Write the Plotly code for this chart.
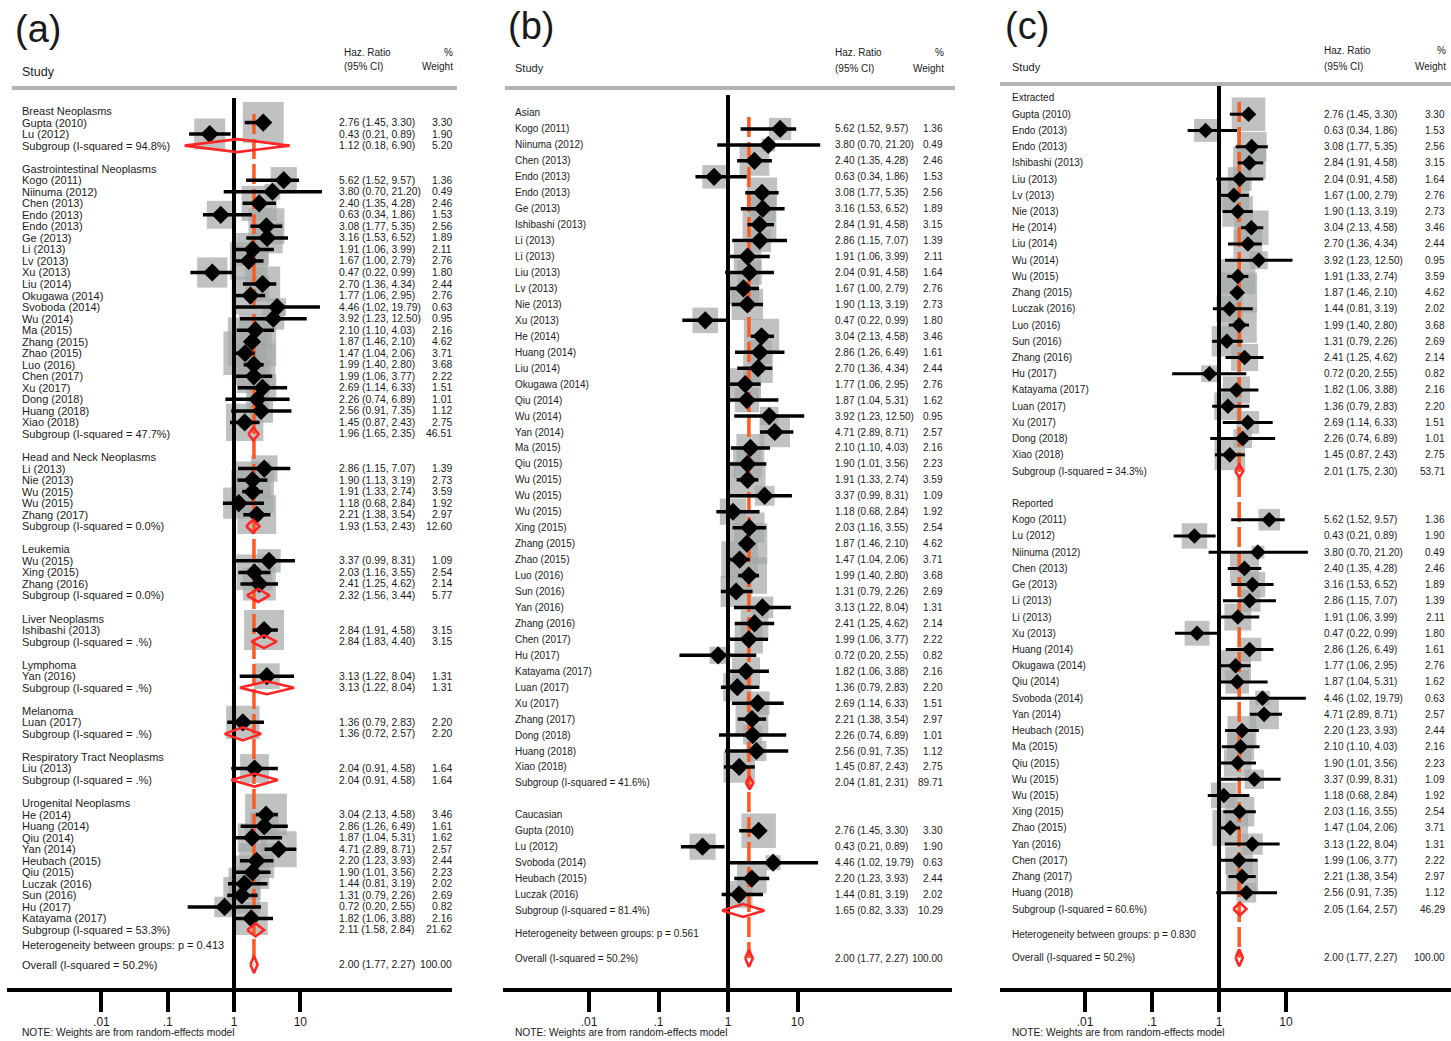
import math
import plotly.graph_objects as go

W_PX, H_PX = 1451, 1041

# ---------------- data ----------------
STUDY = ["Gupta (2010)", "Kogo (2011)", "Lu (2012)", "Niinuma (2012)", "Chen (2013)",
         "Endo (2013)", "Endo (2013)", "Ge (2013)", "Ishibashi (2013)", "Li (2013)",
         "Li (2013)", "Liu (2013)", "Lv (2013)", "Nie (2013)", "Xu (2013)",
         "He (2014)", "Huang (2014)", "Liu (2014)", "Okugawa (2014)", "Qiu (2014)",
         "Svoboda (2014)", "Wu (2014)", "Yan (2014)", "Heubach (2015)", "Ma (2015)",
         "Qiu (2015)", "Wu (2015)", "Wu (2015)", "Wu (2015)", "Xing (2015)",
         "Zhang (2015)", "Zhao (2015)", "Luczak (2016)", "Luo (2016)", "Sun (2016)",
         "Yan (2016)", "Zhang (2016)", "Chen (2017)", "Hu (2017)", "Katayama (2017)",
         "Luan (2017)", "Xu (2017)", "Zhang (2017)", "Dong (2018)", "Huang (2018)",
         "Xiao (2018)"]
HR = [2.76, 5.62, 0.43, 3.80, 2.40, 0.63, 3.08, 3.16, 2.84, 2.86,
      1.91, 2.04, 1.67, 1.90, 0.47, 3.04, 2.86, 2.70, 1.77, 1.87,
      4.46, 3.92, 4.71, 2.20, 2.10, 1.90, 1.91, 3.37, 1.18, 2.03,
      1.87, 1.47, 1.44, 1.99, 1.31, 3.13, 2.41, 1.99, 0.72, 1.82,
      1.36, 2.69, 2.21, 2.26, 2.56, 1.45]
LO = [1.45, 1.52, 0.21, 0.70, 1.35, 0.34, 1.77, 1.53, 1.91, 1.15,
      1.06, 0.91, 1.00, 1.13, 0.22, 2.13, 1.26, 1.36, 1.06, 1.04,
      1.02, 1.23, 2.89, 1.23, 1.10, 1.01, 1.33, 0.99, 0.68, 1.16,
      1.46, 1.04, 0.81, 1.40, 0.79, 1.22, 1.25, 1.06, 0.20, 1.06,
      0.79, 1.14, 1.38, 0.74, 0.91, 0.87]
HI = [3.30, 9.57, 0.89, 21.20, 4.28, 1.86, 5.35, 6.52, 4.58, 7.07,
      3.99, 4.58, 2.79, 3.19, 0.99, 4.58, 6.49, 4.34, 2.95, 5.31,
      19.79, 12.50, 8.71, 3.93, 4.03, 3.56, 2.74, 8.31, 2.84, 3.55,
      2.10, 2.06, 3.19, 2.80, 2.26, 8.04, 4.62, 3.77, 2.55, 3.88,
      2.83, 6.33, 3.54, 6.89, 7.35, 2.43]
WEIGHT = [3.30, 1.36, 1.90, 0.49, 2.46, 1.53, 2.56, 1.89, 3.15, 1.39,
          2.11, 1.64, 2.76, 2.73, 1.80, 3.46, 1.61, 2.44, 2.76, 1.62,
          0.63, 0.95, 2.57, 2.44, 2.16, 2.23, 3.59, 1.09, 1.92, 2.54,
          4.62, 3.71, 2.02, 3.68, 2.69, 1.31, 2.14, 2.22, 0.82, 2.16,
          2.20, 1.51, 2.97, 1.01, 1.12, 2.75]

# (a) by cancer type
A_GROUPS = ["Breast Neoplasms", "Gastrointestinal Neoplasms", "Head and Neck Neoplasms",
            "Leukemia", "Liver Neoplasms", "Lymphoma", "Melanoma",
            "Respiratory Tract Neoplasms", "Urogenital Neoplasms"]
A_MEMBERS = [[0, 2],
             [1, 3, 4, 5, 6, 7, 10, 12, 14, 17, 18, 20, 21, 24, 30, 31, 33, 37, 41, 43, 44, 45],
             [9, 13, 26, 28, 42],
             [27, 29, 36],
             [8],
             [35],
             [40],
             [11],
             [15, 16, 19, 22, 23, 25, 32, 34, 38, 39]]
A_SUB_I2 = ["94.8%", "47.7%", "0.0%", "0.0%", ".%", ".%", ".%", ".%", "53.3%"]
A_SUB_HR = [1.12, 1.96, 1.93, 2.32, 2.84, 3.13, 1.36, 2.04, 2.11]
A_SUB_LO = [0.18, 1.65, 1.53, 1.56, 1.83, 1.22, 0.72, 0.91, 1.58]
A_SUB_HI = [6.90, 2.35, 2.43, 3.44, 4.40, 8.04, 2.57, 4.58, 2.84]
A_SUB_W = [5.20, 46.51, 12.60, 5.77, 3.15, 1.31, 2.20, 1.64, 21.62]
A_HET_P = "0.413"

# (b) by ethnicity
B_GROUPS = ["Asian", "Caucasian"]
B_MEMBERS = [[1, 3, 4, 5, 6, 7, 8, 9, 10, 11, 12, 13, 14, 15, 16, 17, 18, 19, 21, 22,
              24, 25, 26, 27, 28, 29, 30, 31, 33, 34, 35, 36, 37, 38, 39, 40, 41, 42,
              43, 44, 45],
             [0, 2, 20, 23, 32]]
B_SUB_I2 = ["41.6%", "81.4%"]
B_SUB_HR = [2.04, 1.65]
B_SUB_LO = [1.81, 0.82]
B_SUB_HI = [2.31, 3.33]
B_SUB_W = [89.71, 10.29]
B_HET_P = "0.561"

# (c) by HR source
C_GROUPS = ["Extracted", "Reported"]
C_MEMBERS = [[0, 5, 6, 8, 11, 12, 13, 15, 17, 21, 26, 30, 32, 33, 34, 36, 38, 39, 40,
              41, 43, 45],
             [1, 2, 3, 4, 7, 9, 10, 14, 16, 18, 19, 20, 22, 23, 24, 25, 27, 28, 29,
              31, 35, 37, 42, 44]]
C_SUB_I2 = ["34.3%", "60.6%"]
C_SUB_HR = [2.01, 2.05]
C_SUB_LO = [1.75, 1.64]
C_SUB_HI = [2.30, 2.57]
C_SUB_W = [53.71, 46.29]
C_HET_P = "0.830"

OVERALL_I2 = "50.2%"
OVERALL_HR = 2.00
OVERALL_LO = 1.77
OVERALL_HI = 2.27
OVERALL_W = 100.00

TICK_VALS = [0.01, 0.1, 1, 10]
TICK_TEXT = [".01", ".1", "1", "10"]

# ---------------- styling / layout ----------------
FONT = "Liberation Sans, Arial, sans-serif"
GRAY = "#a4a8a6"
ORANGE = "#ff5a1e"
RED = "#ff2626"
TXT = "#1a1a1a"
AX_BOTTOM = 988
AX_TOP = 80

PANEL_DATA = [
    dict(groups=A_GROUPS, members=A_MEMBERS, i2=A_SUB_I2, hr=A_SUB_HR, lo=A_SUB_LO,
         hi=A_SUB_HI, w=A_SUB_W, p=A_HET_P),
    dict(groups=B_GROUPS, members=B_MEMBERS, i2=B_SUB_I2, hr=B_SUB_HR, lo=B_SUB_LO,
         hi=B_SUB_HI, w=B_SUB_W, p=B_HET_P),
    dict(groups=C_GROUPS, members=C_MEMBERS, i2=C_SUB_I2, hr=C_SUB_HR, lo=C_SUB_LO,
         hi=C_SUB_HI, w=C_SUB_W, p=C_HET_P),
]

PANEL_STYLE = [
    dict(tag="(a)", n="", x0=7, x1=452, one=234.0, dec=66.3, r0=111.0, step=11.535,
         lab=20, val=337, wgt=454, box=22.5, dia=14, err=3.5,
         fs_lab=11, fs_val=10.4, fs_study=12.5,
         het=1.3, tag_x=13, tag_y=29, study_x=20, study_y=72, hr_x=342, h1=52, h2=67,
         line_x0=12, line_x1=457, line_y=88, vtop=98),
    dict(tag="(b)", n="2", x0=503, x1=952, one=728.0, dec=69.5, r0=113.0, step=15.95,
         lab=513, val=833, wgt=945, box=19.0, dia=14, err=3.5,
         fs_lab=10, fs_val=10, fs_study=11,
         het=1.45, tag_x=506, tag_y=26, study_x=513, study_y=68, hr_x=833, h1=52, h2=68,
         line_x0=505, line_x1=955, line_y=88, vtop=95),
    dict(tag="(c)", n="3", x0=1000, x1=1451, one=1219.0, dec=67.0, r0=98.0, step=16.22,
         lab=1010, val=1322, wgt=1447, box=18.5, dia=12, err=3.0,
         fs_lab=10, fs_val=10, fs_study=11,
         het=1.6, tag_x=1003, tag_y=26, study_x=1010, study_y=67, hr_x=1322, h1=50, h2=66,
         line_x0=1000, line_x1=1451, line_y=84, vtop=84),
]


def ci_text(h, l, u):
    return f"{h:.2f} ({l:.2f}, {u:.2f})"


traces = []
annotations = []
shapes = []
layout_axes = {}

for D, S in zip(PANEL_DATA, PANEL_STYLE):
    xr, yr = "x" + S["n"], "y" + S["n"]
    step, r0 = S["step"], S["r0"]

    def px_to_row(p):
        return (p - r0) / step

    # build rows
    rows = []
    r = 0
    for gi, g in enumerate(D["groups"]):
        rows.append(("head", r, gi))
        r += 1
        for idx in D["members"][gi]:
            rows.append(("study", r, idx))
            r += 1
        rows.append(("sub", r, gi))
        r += 2
    last_sub = r - 2
    het_row = last_sub + S["het"]
    ov_row = last_sub + 3

    st = [(row, idx) for kind, row, idx in rows if kind == "study"]
    sy = [row for row, _ in st]
    sx = [HR[i] for _, i in st]

    # weight boxes
    traces.append(go.Scatter(
        x=sx, y=sy, mode="markers", xaxis=xr, yaxis=yr, hoverinfo="skip",
        marker=dict(symbol="square", size=[S["box"] * math.sqrt(WEIGHT[i]) for _, i in st],
                    color=GRAY, line=dict(width=0))))
    # null line at 1
    traces.append(go.Scatter(
        x=[1, 1], y=[px_to_row(S["vtop"]), px_to_row(AX_BOTTOM)], mode="lines",
        xaxis=xr, yaxis=yr, hoverinfo="skip", line=dict(color="black", width=4)))
    # overall effect dashed line
    traces.append(go.Scatter(
        x=[OVERALL_HR, OVERALL_HR], y=[0.25, ov_row], mode="lines",
        xaxis=xr, yaxis=yr, hoverinfo="skip",
        line=dict(color=ORANGE, width=3.5, dash="20px,5px")))
    # study estimates with CIs
    traces.append(go.Scatter(
        x=sx, y=sy, mode="markers", xaxis=xr, yaxis=yr, hoverinfo="skip",
        marker=dict(symbol="diamond", size=S["dia"], color="black", line=dict(width=0)),
        error_x=dict(type="data", symmetric=False,
                     array=[HI[i] - HR[i] for _, i in st],
                     arrayminus=[HR[i] - LO[i] for _, i in st],
                     color="black", thickness=S["err"], width=0)))
    # pooled diamonds
    dx, dy = [], []
    hs = 6.5 / step
    for kind, row, gi in rows:
        if kind == "sub":
            h, l, u = D["hr"][gi], D["lo"][gi], D["hi"][gi]
            dx += [l, h, u, h, l, None]
            dy += [row, row - hs, row, row + hs, row, None]
    ho = 8.5 / step
    dx += [OVERALL_LO, OVERALL_HR, OVERALL_HI, OVERALL_HR, OVERALL_LO]
    dy += [ov_row, ov_row - ho, ov_row, ov_row + ho, ov_row]
    traces.append(go.Scatter(
        x=dx, y=dy, mode="lines", xaxis=xr, yaxis=yr, hoverinfo="skip",
        line=dict(color=RED, width=2.6)))

    # text columns
    def add_text(txt, px, row, size, anchor="left"):
        annotations.append(dict(text=txt, x=px / W_PX, xref="paper", y=row, yref=yr,
                                xanchor=anchor, yanchor="middle", showarrow=False,
                                font=dict(family=FONT, size=size, color=TXT)))

    fl, fv = S["fs_lab"], S["fs_val"]
    for kind, row, idx in rows:
        if kind == "head":
            add_text(D["groups"][idx], S["lab"], row, fl)
        elif kind == "study":
            add_text(STUDY[idx], S["lab"], row, fl)
            add_text(ci_text(HR[idx], LO[idx], HI[idx]), S["val"], row, fv)
            add_text(f"{WEIGHT[idx]:.2f}", S["wgt"], row, fv, "right")
        else:
            add_text(f"Subgroup (I-squared = {D['i2'][idx]})", S["lab"], row, fl)
            add_text(ci_text(D["hr"][idx], D["lo"][idx], D["hi"][idx]), S["val"], row, fv)
            add_text(f"{D['w'][idx]:.2f}", S["wgt"], row, fv, "right")
    add_text(f"Heterogeneity between groups: p = {D['p']}", S["lab"], het_row, fl)
    add_text(f"Overall (I-squared = {OVERALL_I2})", S["lab"], ov_row, fl)
    add_text(ci_text(OVERALL_HR, OVERALL_LO, OVERALL_HI), S["val"], ov_row, fv)
    add_text(f"{OVERALL_W:.2f}", S["wgt"], ov_row, fv, "right")

    # headers
    def add_hdr(txt, px, py, size, anchor="left"):
        annotations.append(dict(text=txt, x=px / W_PX, y=1 - py / H_PX, xref="paper",
                                yref="paper", xanchor=anchor, yanchor="middle",
                                showarrow=False,
                                font=dict(family=FONT, size=size, color=TXT)))

    add_hdr(S["tag"], S["tag_x"], S["tag_y"], 38)
    add_hdr("Study", S["study_x"], S["study_y"], S["fs_study"])
    add_hdr("Haz. Ratio", S["hr_x"], S["h1"], 10)
    add_hdr("(95% CI)", S["hr_x"], S["h2"], 10)
    add_hdr("%", S["wgt"] + 1, S["h1"], 10, "right")
    add_hdr("Weight", S["wgt"] + 1, S["h2"], 10, "right")
    add_hdr("NOTE: Weights are from random-effects model", S["lab"], 1032, 10.2)

    shapes.append(dict(type="line", xref="paper", yref="paper",
                       x0=S["line_x0"] / W_PX, x1=S["line_x1"] / W_PX,
                       y0=1 - S["line_y"] / H_PX, y1=1 - S["line_y"] / H_PX,
                       line=dict(color="#b4b4b4", width=4)))

    layout_axes["xaxis" + S["n"]] = dict(
        domain=[S["x0"] / W_PX, S["x1"] / W_PX], type="log",
        range=[(S["x0"] - S["one"]) / S["dec"], (S["x1"] - S["one"]) / S["dec"]],
        anchor=yr, showline=True, linewidth=4, linecolor="black",
        ticks="outside", ticklen=20, tickwidth=4, tickcolor="black",
        tickvals=TICK_VALS, ticktext=TICK_TEXT,
        tickfont=dict(family=FONT, size=12, color=TXT),
        showgrid=False, zeroline=False, fixedrange=True)
    layout_axes["yaxis" + S["n"]] = dict(
        domain=[1 - AX_BOTTOM / H_PX, 1 - AX_TOP / H_PX],
        range=[px_to_row(AX_BOTTOM), px_to_row(AX_TOP)],
        anchor=xr, visible=False, showgrid=False, zeroline=False, fixedrange=True)

fig = go.Figure(data=traces)
fig.update_layout(
    width=W_PX, height=H_PX, margin=dict(l=0, r=0, t=0, b=0),
    paper_bgcolor="white", plot_bgcolor="white", showlegend=False,
    annotations=annotations, shapes=shapes, **layout_axes)

fig.write_html("out.html", config={"displayModeBar": False},
               post_script="document.body.style.margin='0';")
